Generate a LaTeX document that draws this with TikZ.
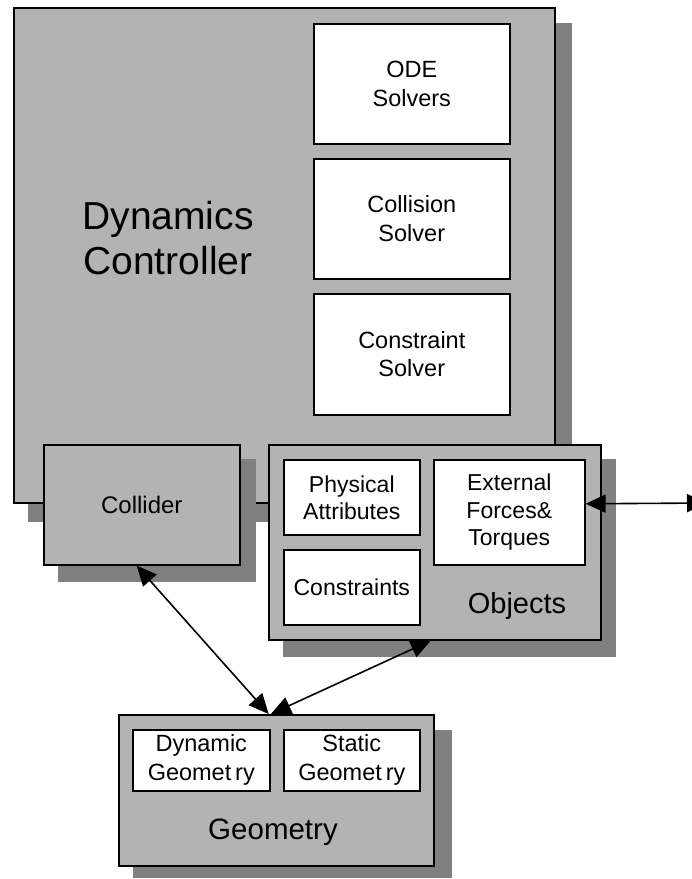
\documentclass[tikz,border=0pt]{standalone}
\usepackage{fontspec}
\setmainfont{Liberation Sans}
\usetikzlibrary{arrows.meta,calc}
\definecolor{boxgray}{RGB}{179,179,179}
\definecolor{shadowgray}{RGB}{128,128,128}
\begin{document}
\begin{tikzpicture}[x=1pt,y=-1pt,
  panel/.style={draw=black, line width=1.6pt, fill=boxgray, anchor=north west, inner sep=0pt},
  part/.style={draw=black, line width=1.6pt, fill=white, anchor=north west, inner sep=0pt,
    align=center, font=\fontsize{23.5}{28.5}\selectfont},
  shade/.style={fill=shadowgray},
  lbl/.style={align=center, inner sep=0pt},
  link/.style={line width=1.6pt, {Triangle[length=20pt,width=18pt]}-{Triangle[length=20pt,width=18pt]}}]
\useasboundingbox (0,0) rectangle (692,879);

% Dynamics controller
\fill[shade] (28,23) rectangle (572,522);
\node[panel, minimum width=541pt, minimum height=495pt] (dyn) at (13,7) {};
\node[lbl, font=\fontsize{39}{45}\selectfont] (dynlbl) at (168,238) {Dynamics\\Controller};
\node[part, minimum width=196pt, minimum height=120pt] (ode) at (313,23) {ODE\\Solvers};
\node[part, minimum width=196pt, minimum height=120pt] (colls) at (313,158) {Collision\\Solver};
\node[part, minimum width=196pt, minimum height=121pt] (cons) at (313,293) {Constraint\\Solver};

% Collider
\fill[shade] (58,459) rectangle (256,582);
\node[panel, minimum width=196pt, minimum height=120pt, font=\fontsize{24}{29}\selectfont] (collider) at (43,444) {Collider};

% Objects
\fill[shade] (283,459) rectangle (616,657);
\node[panel, minimum width=332pt, minimum height=195pt] (obj) at (268,444) {};
\node[part, minimum width=136pt, minimum height=75pt, font=\fontsize{23}{27}\selectfont] (phys) at (283,459) {Physical\\Attributes};
\node[part, minimum width=136pt, minimum height=75pt, font=\fontsize{23}{27}\selectfont] (constr) at (283,549) {Constraints};
\node[part, minimum width=151pt, minimum height=105pt, font=\fontsize{23}{27.5}\selectfont] (ext) at (433,459) {External\\Forces\&\\Torques};
\node[lbl, font=\fontsize{29}{34}\selectfont] (objlbl) at (517,606) {Objects};

% Geometry
\fill[shade] (133,730) rectangle (452,878);
\node[panel, minimum width=315pt, minimum height=151pt] (geo) at (118,714) {};
\node[part, minimum width=137pt, minimum height=61pt, font=\fontsize{23.5}{29}\selectfont] (dgeo) at (132,729) {Dynamic\\Geomet\,ry};
\node[part, minimum width=136pt, minimum height=61pt, font=\fontsize{23.5}{29}\selectfont] (sgeo) at (283,729) {Static\\Geomet\,ry};
\node[lbl, font=\fontsize{29.5}{34}\selectfont] (geolbl) at (273,832) {Geometry};

% connectors
\coordinate (out) at (707,503);
\draw[link] ($(collider.south west)!0.474!(collider.south east)$) -- ($(geo.north west)!0.476!(geo.north east)$);
\draw[link] ($(obj.south west)!0.488!(obj.south east)$) -- ($(geo.north west)!0.483!(geo.north east)$);
\draw[link] ($(ext.north east)!0.42!(ext.south east)$) -- (out);
\end{tikzpicture}
\end{document}
